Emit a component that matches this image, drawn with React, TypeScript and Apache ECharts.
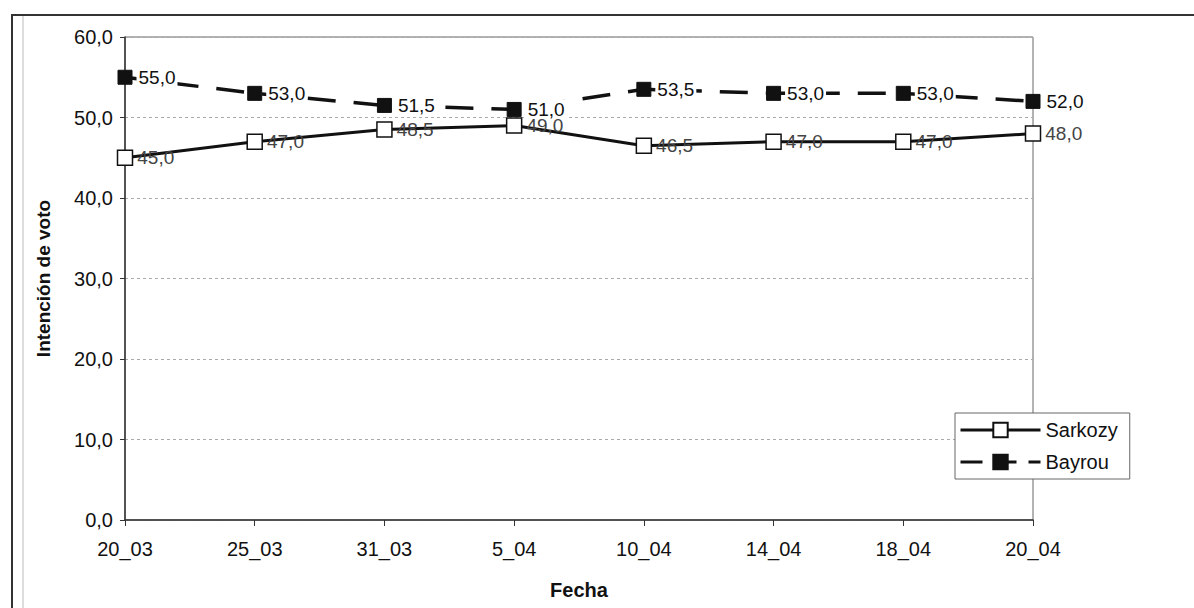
import React, { useEffect, useRef } from "react";
import * as echarts from "echarts";

const categories = ["20_03", "25_03", "31_03", "5_04", "10_04", "14_04", "18_04", "20_04"];
const sarkozy = [45.0, 47.0, 48.5, 49.0, 46.5, 47.0, 47.0, 48.0];
const bayrou = [55.0, 53.0, 51.5, 51.0, 53.5, 53.0, 53.0, 52.0];
const yTicks = { min: 0, max: 60, interval: 10 };

const FONT = "'Liberation Sans', Arial, sans-serif";
const fmt = (v: number) => v.toFixed(1).replace(".", ",");
const BAYROU_DASH = [28, 18];

export default function App() {
  const ref = useRef<HTMLDivElement>(null);
  useEffect(() => {
    if (!ref.current) return;
    const chart = echarts.init(ref.current, null, { renderer: "svg" });
    chart.setOption({
      animation: false,
      backgroundColor: "#ffffff",
      textStyle: { fontFamily: FONT },
      grid: {
        left: 125,
        top: 37,
        right: 161,
        bottom: 88,
        show: true,
        borderColor: "#666",
        borderWidth: 1,
      },
      legend: {
        orient: "vertical",
        left: 955,
        top: 413,
        padding: [7, 12, 7, 4],
        itemWidth: 80,
        itemHeight: 18,
        itemGap: 12,
        borderColor: "#666",
        borderWidth: 1,
        backgroundColor: "#fff",
        textStyle: { fontFamily: FONT, fontSize: 20, color: "#111" },
        data: [
          {
            name: "Sarkozy",
            lineStyle: { width: 3, color: "#111" },
          },
          {
            name: "Bayrou",
            lineStyle: { width: 3, color: "#111", type: [22, 12] },
          },
        ],
      },
      xAxis: {
        type: "category",
        data: categories,
        boundaryGap: false,
        name: "Fecha",
        nameLocation: "middle",
        nameGap: 60,
        nameTextStyle: { fontFamily: FONT, fontSize: 20, fontWeight: "bold", color: "#111" },
        axisLine: { lineStyle: { color: "#333", width: 1.5 } },
        axisTick: { show: true, length: 6, lineStyle: { color: "#333" } },
        axisLabel: { fontFamily: FONT, fontSize: 20, color: "#111", margin: 19 },
        splitLine: { show: false },
      },
      yAxis: {
        type: "value",
        min: yTicks.min,
        max: yTicks.max,
        interval: yTicks.interval,
        name: "Intención de voto",
        nameLocation: "middle",
        nameGap: 72,
        nameTextStyle: { fontFamily: FONT, fontSize: 19, fontWeight: "bold", color: "#111" },
        axisLine: { show: true, lineStyle: { color: "#333", width: 1.5 } },
        axisTick: { show: true, length: 5, lineStyle: { color: "#333" } },
        axisLabel: {
          fontFamily: FONT,
          fontSize: 20,
          color: "#111",
          margin: 12,
          formatter: (v: number) => fmt(v),
        },
        splitLine: { show: true, lineStyle: { color: "#aaa", type: [3, 3], width: 1 } },
      },
      series: [
        {
          name: "Sarkozy",
          type: "line",
          data: sarkozy,
          symbol: "rect",
          symbolSize: 15,
          z: 3,
          lineStyle: { color: "#111", width: 3 },
          itemStyle: { color: "#fff", borderColor: "#111", borderWidth: 1.5 },
          label: {
            show: true,
            position: "right",
            distance: 4,
            fontFamily: FONT,
            fontSize: 19,
            color: "#444",
            formatter: (p: any) => fmt(p.value),
          },
        },
        {
          name: "Bayrou",
          type: "line",
          data: bayrou,
          symbol: "rect",
          symbolSize: 14,
          z: 2,
          lineStyle: { color: "#111", width: 3.5, type: BAYROU_DASH },
          itemStyle: { color: "#111", borderColor: "#111", borderWidth: 1 },
          label: {
            show: true,
            position: "right",
            distance: 4,
            fontFamily: FONT,
            fontSize: 19,
            color: "#111",
            backgroundColor: "#fff",
            padding: [0, 2],
            formatter: (p: any) => fmt(p.value),
          },
        },
      ],
      graphic: [
        {
          type: "rect",
          shape: { x: 12, y: 15, width: 1200, height: 620 },
          style: { fill: "none", stroke: "#333", lineWidth: 2 },
          silent: true,
        },
        {
          type: "line",
          shape: { x1: 23, y1: 16, x2: 23, y2: 608 },
          style: { stroke: "#bbb", lineWidth: 1 },
          silent: true,
        },
      ],
    });
    return () => chart.dispose();
  }, []);
  return (
    <div
      ref={ref}
      style={{ position: "absolute", left: 0, top: 0, width: 1194, height: 608 }}
    />
  );
}
